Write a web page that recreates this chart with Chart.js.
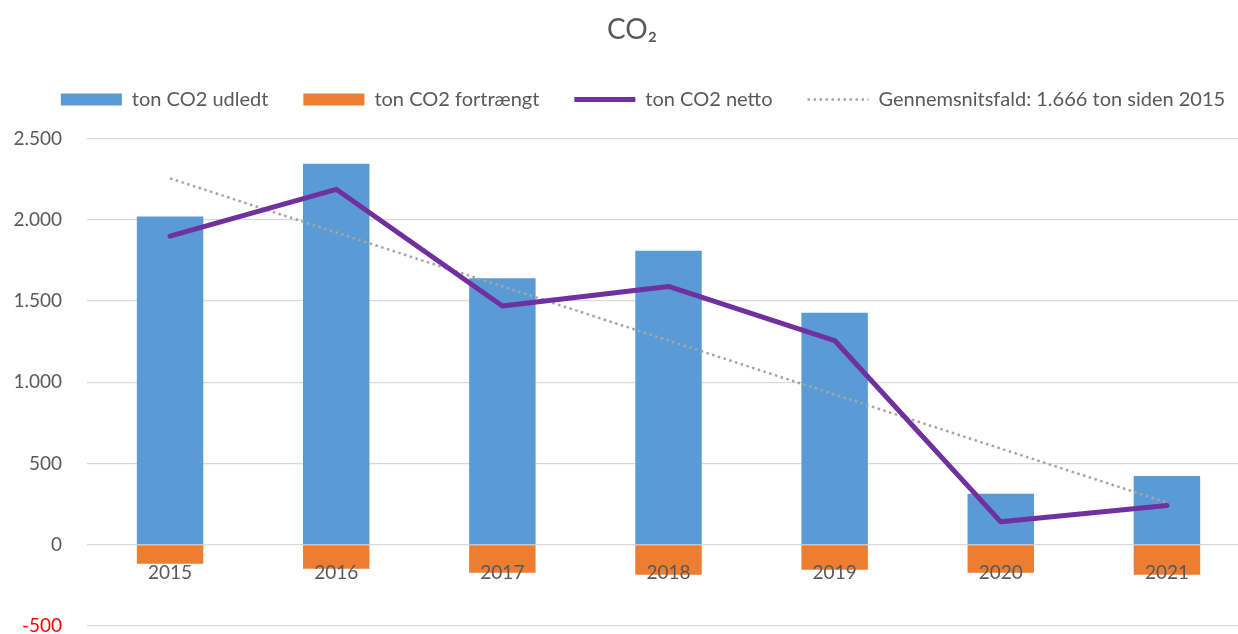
<!DOCTYPE html>
<html>
<head>
<meta charset="utf-8">
<script src="https://cdn.jsdelivr.net/npm/chart.js@4/dist/chart.umd.min.js"></script>
<style>
  html, body { margin: 0; padding: 0; background: #fff; overflow: hidden; }
  #wrap { width: 1250px; height: 634px; }
</style>
</head>
<body>
<div id="wrap"><canvas id="chart-co2"></canvas></div>
<script>
  // Årstal på x-aksen
  const AAR = ["2015", "2016", "2017", "2018", "2019", "2020", "2021"];

  // (ton CO2)
  const UDLEDT = [2020, 2345, 1640, 1810, 1428, 314, 424];
  const FORTRAENGT = [-117, -148, -172, -185, -154, -172, -185];
  const NETTO = [1900, 2188, 1470, 1590, 1257, 141, 242];
  // Den stiplede trendlinje, aflæst ved hvert år
  const TREND = [2255, 1922, 1590, 1257, 925, 592, 260];

  // Akseinddeling
  const Y_MIN = -500;
  const Y_MAX = 2500;
  const Y_TRIN = 500;

  const GRAA_TEKST = "#595959";
  const FONT = "Lato, 'Open Sans', sans-serif";

  // 2500 -> "2.500" (dansk tusindtalsseparator)
  function fmtTal(v) {
    const s = String(Math.abs(v)).replace(/\B(?=(\d{3})+(?!\d))/g, ".");
    return (v < 0 ? "-" : "") + s;
  }

  // Forklaringen står lidt til højre for midten i forlægget
  const legendeForskydning = {
    id: "legendeForskydning",
    afterLayout(chart) {
      chart.legend.left += 11;
      chart.legend.right += 11;
    },
  };

  new Chart(document.getElementById("chart-co2"), {
    plugins: [legendeForskydning],
    data: {
      labels: AAR,
      datasets: [
        {
          type: "bar",
          label: "ton CO2 udledt",
          data: UDLEDT,
          backgroundColor: "#5B9BD5",
          order: 2,
        },
        {
          type: "bar",
          label: "ton CO2 fortrængt",
          data: FORTRAENGT,
          backgroundColor: "#ED7D31",
          order: 2,
        },
        {
          type: "line",
          label: "ton CO2 netto",
          data: NETTO,
          borderColor: "#7030A0",
          backgroundColor: "#7030A0",
          borderWidth: 5,
          pointRadius: 0,
          tension: 0,
          borderJoinStyle: "round",
          borderCapStyle: "round",
          order: 0,
        },
        {
          type: "line",
          label: "Gennemsnitsfald: 1.666 ton siden 2015",
          data: TREND,
          borderColor: "#A5A5A5",
          backgroundColor: "#A5A5A5",
          borderWidth: 2.5,
          borderDash: [2.5, 3.5],
          borderCapStyle: "butt",
          pointRadius: 0,
          tension: 0,
          order: 1,
        },
      ],
    },
    options: {
      responsive: true,
      maintainAspectRatio: false,
      animation: false,
      layout: { padding: { left: 14, right: 0, top: 0, bottom: 0 } },
      datasets: {
        bar: { barPercentage: 0.4, categoryPercentage: 1.0 },
      },
      scales: {
        x: {
          stacked: true,
          position: { y: 0 },
          grid: { display: false },
          border: { display: false },
          afterFit: (scale) => { scale.height = 0; },
          ticks: {
            z: 1,
            color: GRAA_TEKST,
            font: { family: FONT, size: 19 },
            padding: 9,
          },
        },
        // tom akse øverst, giver luft mellem forklaring og plot
        luft: {
          type: "category",
          position: "top",
          grid: { display: false },
          border: { display: false },
          ticks: { display: false },
          afterFit: (scale) => { scale.height = 19; },
        },
        y: {
          min: Y_MIN,
          max: Y_MAX,
          border: { display: false },
          grid: { color: "#D9D9D9", lineWidth: 1.2, drawTicks: false },
          afterFit: (scale) => {
            scale.width = 73;
            scale.paddingTop = 0;
            scale.paddingBottom = 8;
          },
          ticks: {
            stepSize: Y_TRIN,
            padding: 25,
            font: { family: FONT, size: 19 },
            color: (ctx) => (ctx.tick && ctx.tick.value < 0 ? "#FF0000" : GRAA_TEKST),
            callback: (v) => fmtTal(v),
          },
        },
      },
      plugins: {
        tooltip: { enabled: false },
        title: {
          display: true,
          text: "CO₂",
          color: GRAA_TEKST,
          font: { family: FONT, size: 28, weight: "normal" },
          padding: { top: 13, bottom: 8 },
        },
        legend: {
          position: "top",
          labels: {
            color: GRAA_TEKST,
            font: { family: FONT, size: 20 },
            usePointStyle: true,
            pointStyleWidth: 61,
            boxHeight: 12,
            padding: 35,
            generateLabels: (chart) =>
              chart.data.datasets.map((ds, i) => {
                const erLinje = ds.type === "line";
                return {
                  text: ds.label,
                  datasetIndex: i,
                  fillStyle: ds.backgroundColor,
                  strokeStyle: ds.borderColor || ds.backgroundColor,
                  lineWidth: erLinje ? ds.borderWidth : 0,
                  lineDash: ds.borderDash || [],
                  lineCap: "butt",
                  pointStyle: erLinje ? "line" : "rect",
                  fontColor: GRAA_TEKST,
                  hidden: false,
                };
              }),
          },
        },
      },
    },
  });
</script>
</body>
</html>
